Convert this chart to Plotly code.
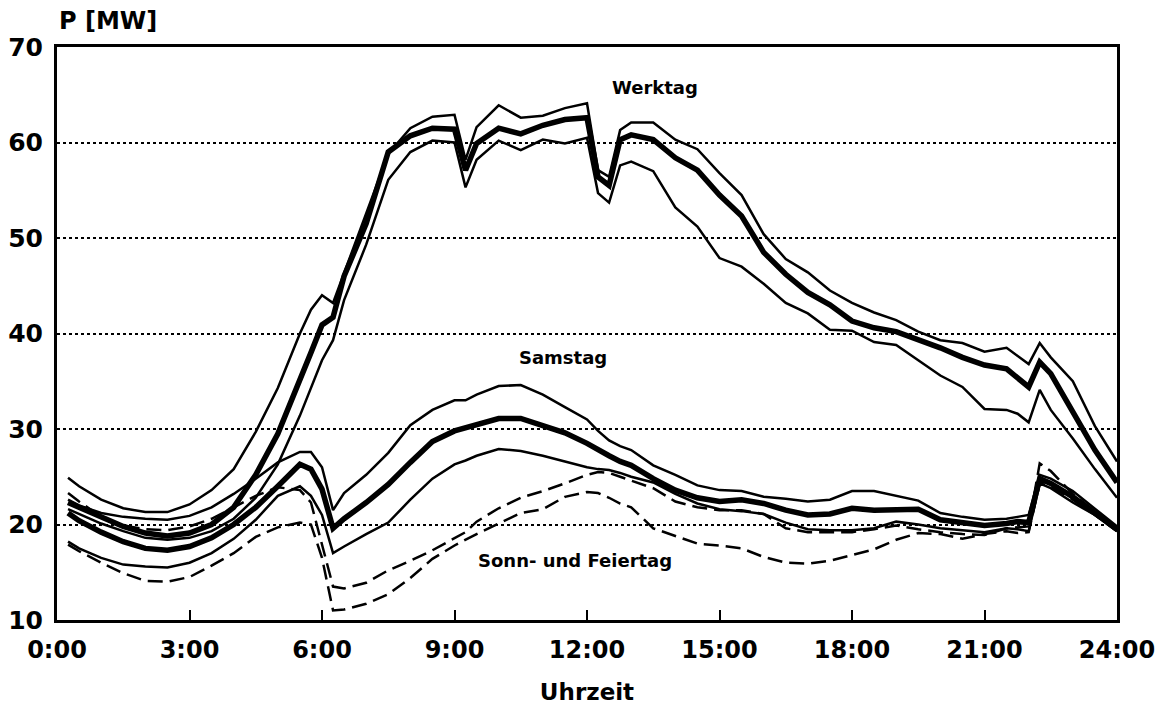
import plotly.graph_objects as go

# time of day in hours
hours = [0.25, 0.5, 1, 1.5, 2, 2.5, 3, 3.5, 4, 4.5, 5, 5.5, 5.75, 6, 6.25, 6.5, 7, 7.5, 8, 8.5,
         9, 9.25, 9.5, 10, 10.5, 11, 11.5, 12, 12.25, 12.5, 12.75, 13, 13.5, 14, 14.5, 15, 15.5,
         16, 16.5, 17, 17.5, 18, 18.5, 19, 19.5, 20, 20.5, 21, 21.5, 21.75, 22, 22.25, 22.5, 23,
         23.5, 24]

werktag_max = [24.9, 24.0, 22.6, 21.7, 21.3, 21.3, 22.1, 23.6, 25.8, 29.7, 34.3, 40.0, 42.5, 44.0,
               43.2, 46.3, 52.5, 58.8, 61.5, 62.7, 62.9, 58.2, 61.6, 63.9, 62.6, 62.8, 63.6, 64.1,
               57.1, 56.4, 61.3, 62.1, 62.1, 60.3, 59.3, 56.8, 54.5, 50.4, 47.8, 46.4, 44.5, 43.2,
               42.2, 41.4, 40.2, 39.3, 39.0, 38.1, 38.5, 37.6, 36.8, 39.0, 37.5, 35.0, 30.3, 26.6]
werktag_mean = [22.3, 21.8, 20.8, 19.8, 19.1, 18.8, 19.1, 20.0, 21.8, 25.2, 29.5, 35.0, 38.0, 40.9,
                41.7, 46.0, 51.5, 59.0, 60.7, 61.5, 61.4, 57.1, 59.9, 61.5, 60.9, 61.8, 62.4, 62.6,
                56.4, 55.5, 60.3, 60.8, 60.3, 58.4, 57.1, 54.5, 52.3, 48.5, 46.2, 44.3, 43.0, 41.3,
                40.6, 40.2, 39.4, 38.5, 37.5, 36.7, 36.3, 35.3, 34.4, 37.0, 35.8, 31.8, 27.8, 24.4]
werktag_min = [21.6, 21.1, 20.1, 19.3, 18.6, 18.4, 18.6, 19.3, 20.6, 22.8, 26.3, 31.4, 34.2, 37.2,
               39.3, 43.5, 49.3, 56.1, 59.0, 60.2, 60.0, 55.3, 58.2, 60.2, 59.2, 60.3, 59.9, 60.5,
               54.7, 53.7, 57.6, 58.0, 57.0, 53.2, 51.2, 47.9, 47.0, 45.2, 43.2, 42.1, 40.4, 40.3,
               39.1, 38.8, 37.2, 35.6, 34.4, 32.1, 32.0, 31.6, 30.7, 34.1, 32.0, 29.0, 25.8, 22.8]

samstag_max = [22.6, 22.0, 21.2, 20.8, 20.6, 20.5, 20.9, 21.8, 23.2, 24.8, 26.5, 27.6, 27.6, 26.0,
               21.5, 23.3, 25.2, 27.5, 30.4, 32.0, 33.0, 33.0, 33.6, 34.5, 34.6, 33.6, 32.3, 31.0,
               29.8, 28.8, 28.2, 27.8, 26.2, 25.2, 24.1, 23.6, 23.5, 22.9, 22.7, 22.4, 22.6, 23.5,
               23.5, 23.0, 22.5, 21.2, 20.8, 20.5, 20.6, 20.8, 21.0, 25.2, 24.8, 23.5, 21.6, 19.8]
samstag_mean = [21.2, 20.4, 19.2, 18.2, 17.5, 17.3, 17.7, 18.6, 20.0, 21.8, 24.0, 26.3, 25.8, 23.7,
                19.6, 20.6, 22.3, 24.2, 26.5, 28.7, 29.8, 30.1, 30.5, 31.1, 31.1, 30.4, 29.6, 28.5,
                27.8, 27.2, 26.6, 26.2, 24.8, 23.6, 22.8, 22.4, 22.6, 22.2, 21.5, 21.0, 21.1, 21.7,
                21.5, 21.6, 21.6, 20.5, 20.2, 19.9, 20.1, 20.3, 20.2, 24.8, 24.3, 22.9, 21.2, 19.5]
samstag_min = [18.2, 17.5, 16.5, 15.8, 15.6, 15.5, 16.0, 17.0, 18.5, 20.5, 23.0, 24.0, 23.0, 21.0,
               17.0, 17.7, 19.0, 20.2, 22.6, 24.8, 26.3, 26.7, 27.2, 27.9, 27.7, 27.2, 26.6, 26.0,
               25.8, 25.7, 25.4, 25.0, 24.4, 23.2, 22.2, 21.6, 21.4, 21.1, 20.2, 19.5, 19.4, 19.4,
               19.6, 20.3, 20.0, 19.6, 19.4, 19.2, 19.6, 19.5, 19.3, 24.3, 23.8, 22.3, 21.0, 19.3]

sonntag_max = [23.3, 22.4, 20.8, 19.9, 19.5, 19.4, 19.8, 20.6, 21.8, 23.0, 23.9, 23.6, 22.3, 18.0,
               13.5, 13.3, 13.9, 15.2, 16.2, 17.3, 18.6, 19.2, 20.3, 21.7, 22.8, 23.5, 24.3, 25.2,
               25.5, 25.4, 25.0, 24.6, 23.8, 22.4, 21.8, 21.5, 21.5, 21.1, 19.6, 19.2, 19.2, 19.2,
               19.5, 19.9, 19.5, 19.2, 19.0, 18.9, 19.6, 19.7, 19.8, 26.4, 25.6, 23.2, 21.3, 19.5]
sonntag_min = [17.9, 17.2, 16.0, 14.9, 14.1, 14.0, 14.5, 15.7, 17.0, 18.7, 19.7, 20.2, 20.0, 16.5,
               11.0, 11.1, 11.7, 12.7, 14.4, 16.4, 17.8, 18.4, 19.0, 20.1, 21.2, 21.6, 22.9, 23.4,
               23.3, 22.8, 22.2, 21.8, 19.6, 18.8, 18.0, 17.8, 17.5, 16.6, 16.0, 15.9, 16.2, 16.8,
               17.4, 18.4, 19.1, 19.0, 18.5, 19.0, 19.3, 19.1, 19.2, 24.3, 24.0, 22.6, 21.0, 19.3]

tick_hours = [0, 3, 6, 9, 12, 15, 18, 21, 24]
tick_labels = ["0:00", "3:00", "6:00", "9:00", "12:00", "15:00", "18:00", "21:00", "24:00"]
y_ticks = [10, 20, 30, 40, 50, 60, 70]

labels = [("Werktag", 13.55, 65.8), ("Samstag", 11.45, 37.5), ("Sonn- und Feiertag", 11.72, 16.2)]

FONT = "DejaVu Sans, Liberation Sans, Arial, sans-serif"

fig = go.Figure()

series = [
    ("Sonntag max", sonntag_max, 2.5, "15px,7px"),
    ("Sonntag min", sonntag_min, 2.5, "15px,7px"),
    ("Samstag max", samstag_max, 2.5, "solid"),
    ("Samstag min", samstag_min, 2.5, "solid"),
    ("Werktag max", werktag_max, 2.5, "solid"),
    ("Werktag min", werktag_min, 2.5, "solid"),
    ("Samstag", samstag_mean, 5.5, "solid"),
    ("Werktag", werktag_mean, 5.5, "solid"),
]
for name, vals, w, dash in series:
    fig.add_trace(go.Scatter(x=hours, y=vals, mode="lines", name=name,
                             line=dict(color="black", width=w, dash=dash),
                             showlegend=False))

for text, hx, vy in labels:
    fig.add_annotation(x=hx, y=vy, xref="x", yref="y", text=text, showarrow=False,
                       font=dict(family=FONT, size=18, color="black", weight="bold"))

fig.add_annotation(x=0, y=1.045, xref="paper", yref="paper", xanchor="left", yanchor="middle",
                   text="P [MW]", showarrow=False,
                   font=dict(family=FONT, size=24, color="black", weight="bold"))

fig.update_layout(
    width=1167, height=708,
    margin=dict(l=57, r=50, t=47, b=88),
    paper_bgcolor="white", plot_bgcolor="white",
    font=dict(family=FONT, color="black", size=24, weight="bold"),
    xaxis=dict(range=[0, 24], tickmode="array", tickvals=tick_hours, ticktext=tick_labels,
               showline=True, linecolor="black", linewidth=3, mirror=True,
               ticks="inside", ticklen=10, tickwidth=2, tickcolor="black",
               showgrid=False, zeroline=False, automargin=False,
               tickfont=dict(family=FONT, size=24, color="black", weight="bold"),
               ticklabelstandoff=6,
               title=dict(text="Uhrzeit", standoff=22,
                          font=dict(family=FONT, size=23, color="black", weight="bold"))),
    yaxis=dict(range=[10, 70], tickmode="array", tickvals=y_ticks,
               showline=True, linecolor="black", linewidth=3, mirror=True,
               ticks="", showgrid=True, gridcolor="black", gridwidth=2, griddash="dot",
               zeroline=False, automargin=False,
               tickfont=dict(family=FONT, size=25, color="black", weight="bold"),
               ticklabelstandoff=6),
)

fig.write_html("out.html")
